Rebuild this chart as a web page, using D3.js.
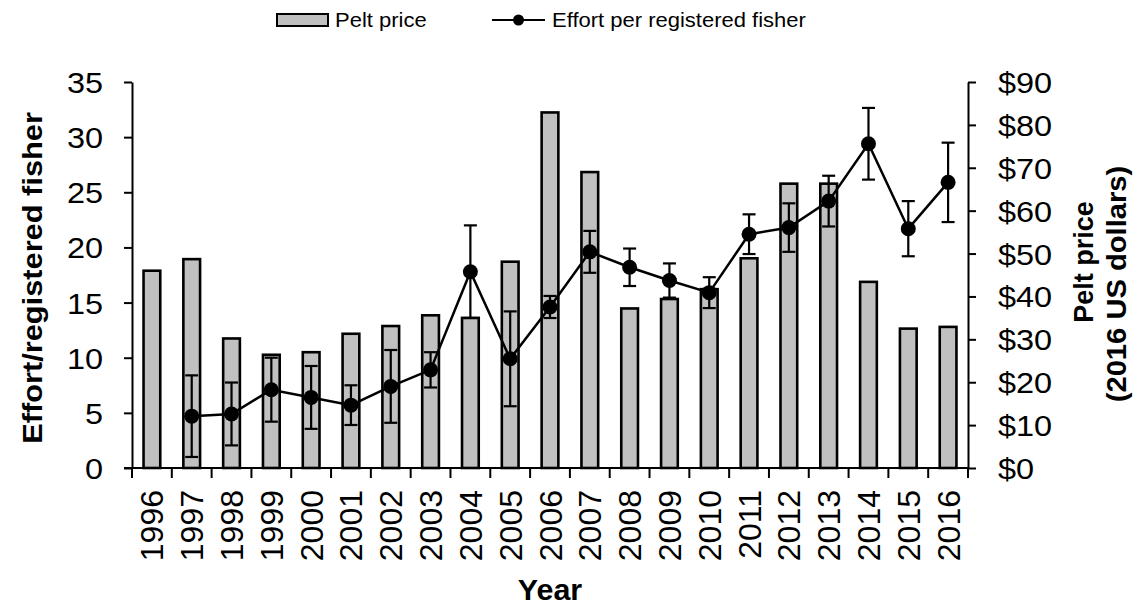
<!DOCTYPE html>
<html>
<head>
<meta charset="utf-8">
<script src="https://cdn.jsdelivr.net/npm/d3@7"></script>
<style>
  body { margin: 0; background: #fff; }
  text { font-family: "Liberation Sans", Arial, Helvetica, sans-serif; fill: #000; }
</style>
</head>
<body>
<svg id="chart" width="1143" height="607"></svg>
<script>
// Years on the category axis
const years = ["1996","1997","1998","1999","2000","2001","2002","2003","2004","2005","2006",
               "2007","2008","2009","2010","2011","2012","2013","2014","2015","2016"];

// Pelt price, 2016 US dollars (bars, right axis)
const peltPrice = [46.0, 48.7, 30.2, 26.4, 27.0, 31.3, 33.1, 35.6, 35.0, 48.1, 82.9,
                   69.0, 37.2, 39.4, 41.7, 48.9, 66.3, 66.3, 43.4, 32.5, 32.9];

// Effort per registered fisher (line, left axis) and its error half-widths
const effort    = [null, 4.7, 4.9, 7.1, 6.4, 5.7, 7.4, 8.9, 17.8, 9.9, 14.6,
                   19.6, 18.2, 17.0, 15.9, 21.2, 21.8, 24.2, 29.4, 21.7, 25.9];
const effortErr = [null, 3.7, 2.85, 2.9, 2.85, 1.8, 3.3, 1.6, 4.2, 4.3, 1.0,
                   1.9, 1.7, 1.55, 1.4, 1.8, 2.2, 2.3, 3.25, 2.5, 3.6];

// Axis ticks
const leftTicks  = [0, 5, 10, 15, 20, 25, 30, 35];
const rightTicks = [0, 10, 20, 30, 40, 50, 60, 70, 80, 90];

const svg = d3.select("#chart");

const plot = { left: 132, right: 968, top: 82, bottom: 468 };

const x = d3.scaleBand().domain(years).range([plot.left, plot.right]).padding(0);
const yLeft  = d3.scaleLinear().domain([0, 35]).range([plot.bottom, plot.top]);
const yRight = d3.scaleLinear().domain([0, 90]).range([plot.bottom, plot.top]);

const barFrac = 0.42;
const series = years.map((yr, i) => ({ yr, price: peltPrice[i], eff: effort[i], err: effortErr[i] }));

// Bars: pelt price
svg.append("g").selectAll("rect")
  .data(series)
  .join("rect")
  .attr("x", d => x(d.yr) + x.bandwidth() * (1 - barFrac) / 2)
  .attr("width", x.bandwidth() * barFrac)
  .attr("y", d => yRight(d.price))
  .attr("height", d => yRight(0) - yRight(d.price))
  .attr("fill", "#c0c0c0")
  .attr("stroke", "#000")
  .attr("stroke-width", 2.6);

// Axes
const tickSize = 8;
const stretchText = (sel, sx, offset) => {
  sel.attr("transform", `scale(${sx},1)`).attr("x", offset / sx);
};

const gLeft = svg.append("g")
  .attr("transform", `translate(${plot.left},0)`)
  .call(d3.axisLeft(yLeft).tickValues(leftTicks).tickSize(tickSize).tickSizeOuter(0));
gLeft.selectAll("text")
  .attr("font-size", 29).attr("dy", "0.36em")
  .call(stretchText, 1.12, -29);

const gRight = svg.append("g")
  .attr("transform", `translate(${plot.right},0)`)
  .call(d3.axisRight(yRight).tickValues(rightTicks).tickSize(tickSize).tickSizeOuter(0)
        .tickFormat(d => "$" + d));
gRight.selectAll("text")
  .attr("font-size", 29).attr("dy", "0.36em")
  .call(stretchText, 1.12, 30);

// Category axis: ticks sit on band boundaries
const gBottom = svg.append("g");
gBottom.append("line")
  .attr("x1", plot.left - tickSize).attr("x2", plot.right)
  .attr("y1", plot.bottom).attr("y2", plot.bottom)
  .attr("stroke", "#000").attr("stroke-width", 2);
const boundaries = years.map(yr => x(yr)).concat([x(years[years.length - 1]) + x.bandwidth()]);
gBottom.selectAll("line.tick")
  .data(boundaries)
  .join("line")
  .attr("class", "tick")
  .attr("x1", d => d).attr("x2", d => d)
  .attr("y1", plot.bottom).attr("y2", plot.bottom + 10)
  .attr("stroke", "#000").attr("stroke-width", 2);
gBottom.selectAll("text")
  .data(years)
  .join("text")
  .attr("transform", d => `translate(${x(d) + x.bandwidth() / 2},${plot.bottom + 22}) rotate(-90)`)
  .attr("text-anchor", "end")
  .attr("dy", "0.36em")
  .attr("font-size", 32)
  .text(d => d);

[gLeft, gRight].forEach(g => {
  g.select(".domain").attr("stroke", "#000").attr("stroke-width", 2);
  g.selectAll(".tick line").attr("stroke", "#000").attr("stroke-width", 2);
});

// Error bars
const cap = 6.5;
const errs = series.filter(d => d.eff != null);
const gErr = svg.append("g").attr("stroke", "#000").attr("stroke-width", 2.2);
errs.forEach(d => {
  const cx = x(d.yr) + x.bandwidth() / 2;
  const yt = yLeft(d.eff + d.err), yb = yLeft(d.eff - d.err);
  gErr.append("line").attr("x1", cx).attr("x2", cx).attr("y1", yt).attr("y2", yb);
  gErr.append("line").attr("x1", cx - cap).attr("x2", cx + cap).attr("y1", yt).attr("y2", yt);
  gErr.append("line").attr("x1", cx - cap).attr("x2", cx + cap).attr("y1", yb).attr("y2", yb);
});

// Effort line and markers
const line = d3.line()
  .defined(d => d.eff != null)
  .x(d => x(d.yr) + x.bandwidth() / 2)
  .y(d => yLeft(d.eff));
svg.append("path")
  .datum(series)
  .attr("d", line)
  .attr("fill", "none")
  .attr("stroke", "#000")
  .attr("stroke-width", 2.5);
svg.append("g").selectAll("circle")
  .data(errs)
  .join("circle")
  .attr("cx", d => x(d.yr) + x.bandwidth() / 2)
  .attr("cy", d => yLeft(d.eff))
  .attr("r", 7.5)
  .attr("fill", "#000");

// Axis titles
svg.append("text")
  .attr("transform", `translate(${(plot.left + plot.right) / 2},600) scale(1.05,1)`)
  .attr("text-anchor", "middle")
  .attr("font-size", 29).attr("font-weight", "bold")
  .text("Year");

svg.append("text")
  .attr("transform", `translate(32.5,278) rotate(-90) scale(1.08,1)`)
  .attr("text-anchor", "middle").attr("dy", "0.35em")
  .attr("font-size", 28.5).attr("font-weight", "bold")
  .text("Effort/registered fisher");

svg.append("text")
  .attr("transform", `translate(1084,262) rotate(-90)`)
  .attr("text-anchor", "middle").attr("dy", "0.35em")
  .attr("font-size", 27).attr("font-weight", "bold")
  .text("Pelt price");
svg.append("text")
  .attr("transform", `translate(1117,284) rotate(-90) scale(1.08,1)`)
  .attr("text-anchor", "middle").attr("dy", "0.35em")
  .attr("font-size", 27).attr("font-weight", "bold")
  .text("(2016 US dollars)");

// Legend
const legend = svg.append("g");
legend.append("rect")
  .attr("x", 277).attr("y", 14).attr("width", 51).attr("height", 12)
  .attr("fill", "#c0c0c0").attr("stroke", "#000").attr("stroke-width", 2);
legend.append("text")
  .attr("transform", "translate(335,27) scale(1.1,1)")
  .attr("font-size", 20)
  .text("Pelt price");
legend.append("line")
  .attr("x1", 492).attr("x2", 545).attr("y1", 20).attr("y2", 20)
  .attr("stroke", "#000").attr("stroke-width", 2.2);
legend.append("circle")
  .attr("cx", 518.5).attr("cy", 20).attr("r", 5.5).attr("fill", "#000");
legend.append("text")
  .attr("transform", "translate(552,27) scale(1.1,1)")
  .attr("font-size", 20)
  .text("Effort per registered fisher");
</script>
</body>
</html>
